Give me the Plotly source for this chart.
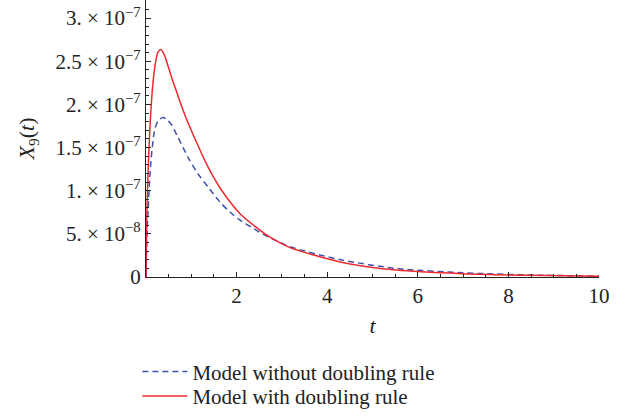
import plotly.graph_objects as go

# Data
t_red = [0.0, 0.03, 0.13, 0.2, 0.26, 0.325, 0.4, 0.49, 0.58, 0.68, 0.85, 1.01, 1.375, 1.65, 2.075,
         2.37, 2.66, 2.96, 3.18, 4.28, 5.53, 7.0, 8.48, 10.0]
x9_red = [0.0, 9.6e-8, 2.10e-7, 2.45e-7, 2.60e-7, 2.637e-7, 2.58e-7, 2.44e-7, 2.29e-7, 2.14e-7,
          1.89e-7, 1.686e-7, 1.27e-7, 1.02e-7, 7.34e-8, 6.02e-8, 4.87e-8, 3.95e-8, 3.4e-8, 1.75e-8,
          8.0e-9, 3.8e-9, 1.9e-9, 8e-10]

t_blue = [0.0, 0.03, 0.11, 0.2, 0.28, 0.38, 0.47, 0.567, 0.68, 0.934, 1.155, 1.375, 1.634, 1.854,
          2.075, 2.37, 2.59, 2.96, 3.18, 4.28, 5.53, 7.0, 8.48, 10.0]
x9_blue = [0.0, 5.8e-8, 1.347e-7, 1.724e-7, 1.82e-7, 1.849e-7, 1.82e-7, 1.761e-7, 1.647e-7, 1.381e-7,
           1.191e-7, 1.039e-7, 8.68e-8, 7.53e-8, 6.59e-8, 5.63e-8, 4.95e-8, 4.0e-8, 3.5e-8, 2.02e-8,
           9.9e-9, 4.9e-9, 2.3e-9, 1.1e-9]

y_tickvals = [0, 5e-8, 1e-7, 1.5e-7, 2e-7, 2.5e-7, 3e-7]
y_ticktext = ["0", "5. × 10<sup>−8</sup>", "1. × 10<sup>−7</sup>", "1.5 × 10<sup>−7</sup>",
              "2. × 10<sup>−7</sup>", "2.5 × 10<sup>−7</sup>", "3. × 10<sup>−7</sup>"]
x_tickvals = [2, 4, 6, 8, 10]

FONT = "Liberation Serif"
INK = "#222222"

fig = go.Figure()
fig.add_trace(go.Scatter(x=t_blue, y=x9_blue, mode="lines", name="Model without doubling rule",
                         legend="legend",
                         line=dict(color="#3f51a8", width=1.5, dash="6px,4px", shape="spline", smoothing=0.8)))
fig.add_trace(go.Scatter(x=t_red, y=x9_red, mode="lines", name="Model with doubling rule",
                         legend="legend2",
                         line=dict(color="#ee2a2f", width=1.5, shape="spline", smoothing=0.8)))

leg_common = dict(x=-0.019, xanchor="left", yanchor="middle", bgcolor="rgba(0,0,0,0)",
                  font=dict(family=FONT, size=21, color=INK), itemwidth=45)

fig.update_layout(
    width=632, height=417,
    margin=dict(l=146, r=33, t=0, b=136),
    paper_bgcolor="white", plot_bgcolor="white",
    font=dict(family=FONT, size=21, color=INK),
    showlegend=True,
    legend=dict(y=-0.342, **leg_common),
    legend2=dict(y=-0.431, **leg_common),
    xaxis=dict(range=[0, 10], tickvals=x_tickvals, showgrid=False, zeroline=False, automargin=False,
               showline=True, linecolor=INK, linewidth=1.2,
               ticks="inside", ticklen=5, tickcolor=INK,
               minor=dict(dtick=0.5, ticks="inside", ticklen=3, tickcolor=INK),
               title=dict(text="<i>t</i>", standoff=10, font=dict(family=FONT, size=22)),
               tickfont=dict(family=FONT, size=21)),
    yaxis=dict(range=[0, 3.21e-7], tickvals=y_tickvals, ticktext=y_ticktext, showgrid=False,
               zeroline=False, showline=True, linecolor=INK, linewidth=1.2, automargin=False,
               ticks="inside", ticklen=5, tickcolor=INK,
               minor=dict(dtick=1e-8, ticks="inside", ticklen=3, tickcolor=INK),
               title=dict(text="<i>X</i><sub>9</sub>(<i>t</i>)", standoff=14, font=dict(family=FONT, size=22)),
               tickfont=dict(family=FONT, size=21)),
)

fig.write_html("out.html", config={"displayModeBar": False},
               post_script="document.body.style.margin='0';")
